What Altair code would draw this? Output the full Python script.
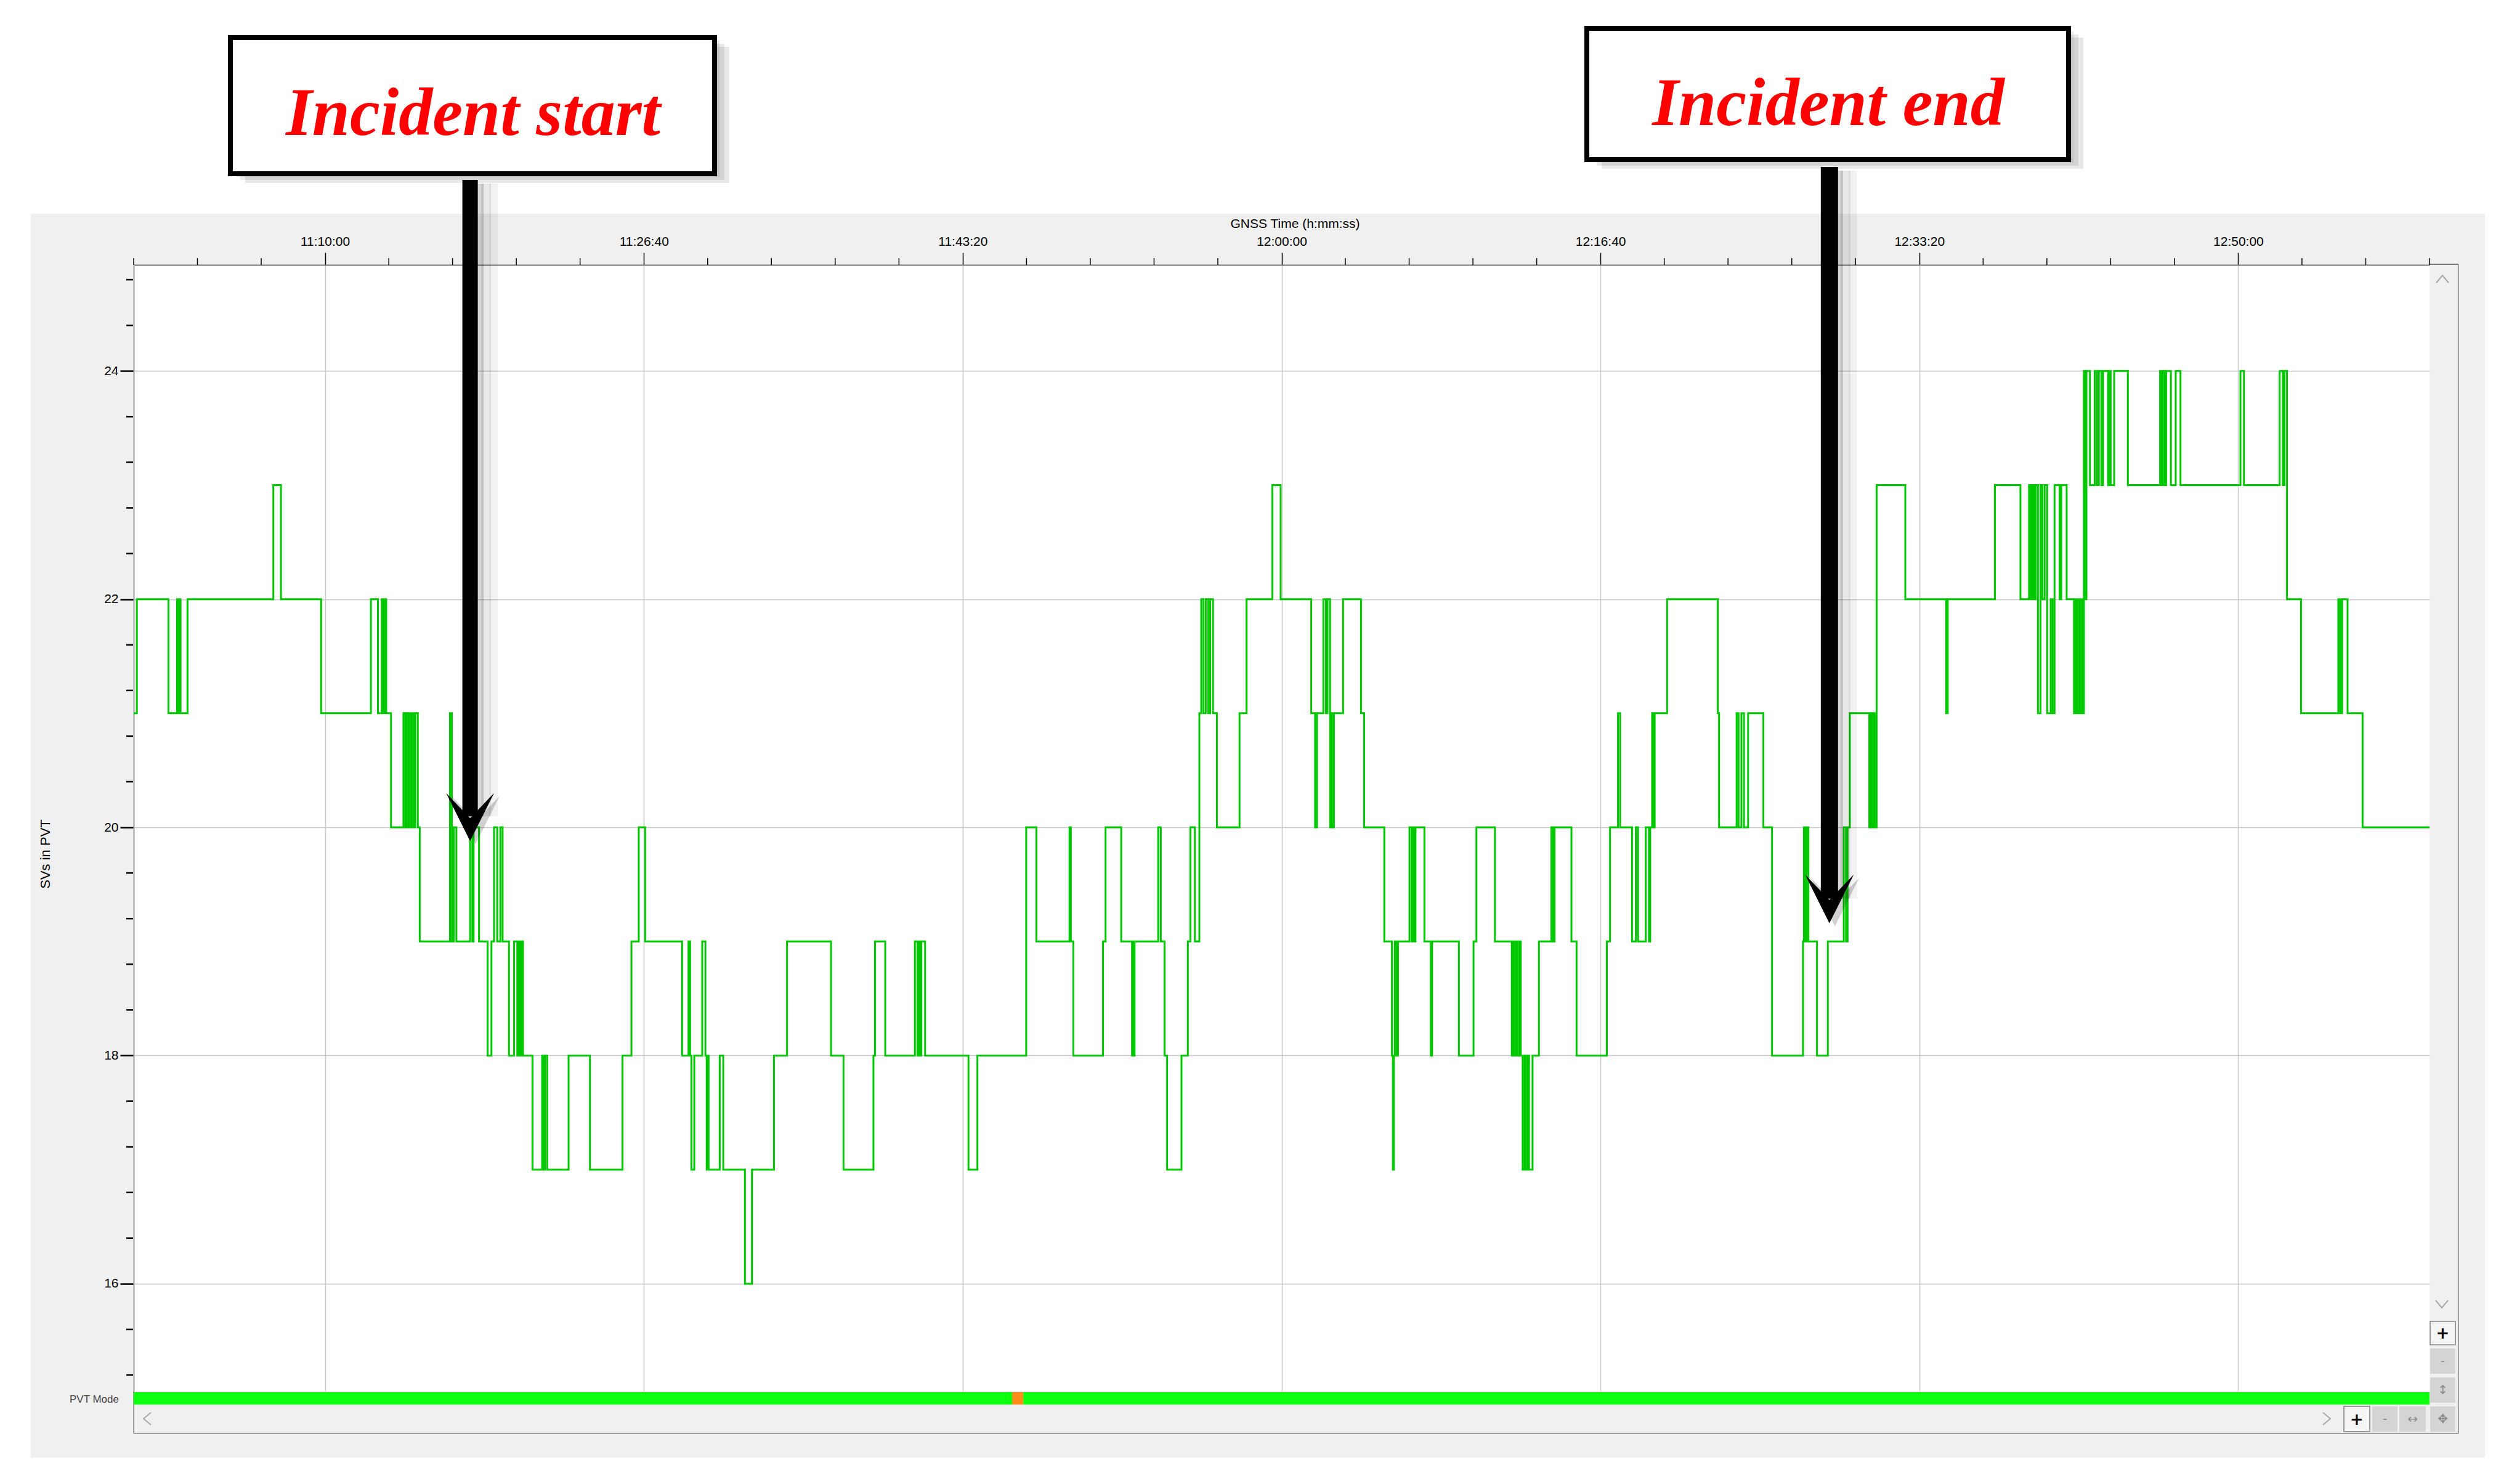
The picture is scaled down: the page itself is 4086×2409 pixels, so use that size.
import altair as alt
import pandas as pd

# ---------------- data ----------------
# seconds after 11:00:00 at which "SVs in PVT" changes, and the new value
change_sec = [0, 10, 109, 136, 140, 143, 147, 169, 438, 462, 588, 744, 766, 778, 783, 787, 792, 807,
              846, 852, 855, 861, 864, 870, 874, 880, 883, 891, 897, 992, 998, 1004, 1012, 1055, 1062,
              1066, 1083, 1110, 1122, 1130, 1140, 1150, 1157, 1177, 1193, 1203, 1208, 1213, 1217, 1221,
              1251, 1281, 1286, 1290, 1297, 1364, 1431, 1533, 1561, 1584, 1604, 1720, 1740, 1745, 1749,
              1758, 1783, 1793, 1797, 1800, 1803, 1838, 1849, 1917, 1939, 2008, 2049, 2187, 2226, 2320,
              2325, 2357, 2450, 2458, 2462, 2466, 2470, 2482, 2618, 2646, 2799, 2831, 2935, 2939, 2947,
              3040, 3048, 3097, 3131, 3135, 3137, 3139, 3213, 3221, 3233, 3241, 3286, 3306, 3314, 3328,
              3342, 3348, 3355, 3362, 3370, 3376, 3385, 3397, 3468, 3490, 3571, 3597, 3693, 3705, 3711,
              3731, 3739, 3744, 3752, 3756, 3758, 3764, 3793, 3849, 3859, 3922, 3946, 3949, 3952, 3955,
              3960, 3965, 4001, 4008, 4012, 4015, 4020, 4048, 4068, 4072, 4156, 4202, 4211, 4269, 4322,
              4326, 4330, 4336, 4340, 4346, 4350, 4356, 4362, 4366, 4372, 4376, 4387, 4407, 4446, 4452,
              4456, 4509, 4525, 4620, 4630, 4655, 4662, 4699, 4711, 4718, 4742, 4752, 4756, 4762, 4766,
              4770, 4809, 4968, 4972, 5027, 5033, 5042, 5050, 5063, 5111, 5138, 5235, 5238, 5242, 5246,
              5252, 5279, 5313, 5363, 5370, 5375, 5382, 5443, 5447, 5452, 5456, 5460, 5466, 5556, 5684,
              5689, 5837, 5917, 5944, 5950, 5955, 5960, 5965, 5972, 5980, 5986, 5993, 6001, 6012, 6018,
              6024, 6040, 6045, 6062, 6085, 6090, 6094, 6100, 6104, 6110, 6114, 6116, 6120, 6124, 6135,
              6150, 6157, 6163, 6171, 6176, 6192, 6196, 6200, 6211, 6254, 6355, 6360, 6364, 6370, 6374,
              6389, 6404, 6419, 6607, 6618, 6730, 6740, 6745, 6753, 6797, 6914, 6920, 6926, 6943, 6990]
svs = [21, 22, 21, 22, 21, 22, 21, 22, 23, 22, 21, 22, 21, 22, 21, 22, 21, 20,
       21, 20, 21, 20, 21, 20, 21, 20, 21, 20, 19, 21, 19, 20, 19, 20, 19,
       20, 19, 18, 19, 20, 19, 20, 19, 18, 19, 18, 19, 18, 19, 18,
       17, 18, 17, 18, 17, 18, 17, 18, 19, 20, 19, 18, 19, 18, 17,
       18, 19, 18, 17, 18, 17, 18, 17, 16, 17, 18, 19, 18, 17, 18,
       19, 18, 19, 18, 19, 18, 19, 18, 17, 18, 20, 19, 20, 19, 18,
       19, 20, 19, 18, 19, 18, 19, 20, 19, 18, 17, 18, 19, 20, 19,
       21, 22, 21, 22, 21, 22, 21, 20, 21, 22, 23, 22, 21, 20, 21,
       22, 21, 22, 20, 21, 20, 21, 22, 21, 20, 19, 18, 17, 18, 19,
       18, 19, 20, 19, 20, 19, 20, 19, 18, 19, 18, 19, 20, 19, 18,
       19, 18, 19, 18, 19, 18, 17, 18, 17, 18, 17, 18, 19, 20, 19,
       20, 19, 18, 19, 20, 21, 20, 19, 20, 19, 20, 19, 20, 21, 20,
       21, 22, 21, 20, 21, 20, 21, 20, 21, 20, 18, 19, 20, 19, 20,
       19, 18, 19, 20, 19, 20, 21, 20, 21, 20, 21, 20, 23, 22, 21,
       22, 23, 22, 23, 22, 23, 22, 23, 21, 23, 22, 23, 21, 22, 21,
       23, 22, 23, 22, 21, 22, 21, 22, 21, 22, 21, 24, 22, 24, 23,
       24, 23, 24, 23, 24, 23, 24, 23, 24, 23, 24, 23, 24, 23, 24,
       23, 24, 23, 24, 23, 24, 23, 24, 22, 21, 22, 21, 22, 21, 20]
end_sec = 7200

x_major = [600, 1600, 2600, 3600, 4600, 5600, 6600]
y_major = [16, 18, 20, 22, 24]

pvt_start = [0, 2755, 2790]
pvt_end = [2755, 2790, 7200]
pvt_mode = ["3D", "degraded", "3D"]

incident_label = ["Incident start", "Incident end"]
incident_sec = [1055, 5318]
incident_tip = [19.88, 19.16]

# ---------------- layout constants ----------------
W, H = 3727, 1828
PAD = {"left": 209, "top": 422, "right": 134, "bottom": 135}
X_DOMAIN = [0, end_sec]
Y_DOMAIN = [15.06, 24.93]
xs = alt.Scale(domain=X_DOMAIN, nice=False, zero=False)
ys = alt.Scale(domain=Y_DOMAIN, nice=False, zero=False)
SANS = "Liberation Sans"

hms = ("(11 + floor(datum.value / 3600)) + ':' + "
       "(floor((datum.value % 3600) / 60) < 10 ? '0' : '') + floor((datum.value % 3600) / 60) + ':' + "
       "((datum.value % 60) < 10 ? '0' : '') + (datum.value % 60)")
x_axis = alt.Axis(
    orient="top", values=x_major, labelExpr=hms,
    title="GNSS Time (h:mm:ss)", titleX=1885, titlePadding=8, titleFontSize=21,
    titleFontWeight="normal", titleColor="black", titleFont=SANS,
    tickSize=20, tickWidth=1.5, tickColor="black", labelPadding=8, labelFontSize=21,
    labelFont=SANS, labelColor="black", labelOverlap=False, labelFlush=False,
    domainColor="#7a7a7a", domainWidth=2, grid=True, gridColor="#c8c8c8", gridWidth=1.5)
y_axis = alt.Axis(
    orient="left", values=y_major, format="d",
    title="SVs in PVT", titleX=-144, titleY=956, titleAlign="center", titleBaseline="middle",
    titleFontSize=22, titleFontWeight="normal", titleColor="black", titleFont=SANS,
    tickSize=22, tickWidth=2.5, tickColor="black", labelPadding=3, labelFontSize=21,
    labelFont=SANS, labelColor="black",
    domainColor="#a0a0a0", domainWidth=2, grid=True, gridColor="#c8c8c8", gridWidth=1.5)


def X(field):
    return alt.X(field, type="quantitative", scale=xs, axis=x_axis)


def Y(field):
    return alt.Y(field, type="quantitative", scale=ys, axis=y_axis)


one = pd.DataFrame({"k": [0]})


def prect(x, x2, y, y2, **kw):
    return alt.Chart(one).mark_rect(**kw).encode(
        x=alt.value(x), x2=alt.value(x2), y=alt.value(y), y2=alt.value(y2))


def prule(x, y, x2=None, y2=None, **kw):
    enc = dict(x=alt.value(x), y=alt.value(y))
    if x2 is not None:
        enc["x2"] = alt.value(x2)
    if y2 is not None:
        enc["y2"] = alt.value(y2)
    return alt.Chart(one).mark_rule(**kw).encode(**enc)


def ptext(txt, x, y, **kw):
    return alt.Chart(one).mark_text(text=txt, **kw).encode(x=alt.value(x), y=alt.value(y))


def pshape(path, x, y, size, **kw):
    return alt.Chart(one).mark_point(shape=path, size=size, opacity=1, **kw).encode(
        x=alt.value(x), y=alt.value(y))


layers = []

# step line
step_df = pd.DataFrame({"t": change_sec + [end_sec], "v": svs + [svs[-1]]})
layers.append(
    alt.Chart(step_df).mark_line(interpolate="step-after", color="#00c800", strokeWidth=3, clip=True).encode(
        x=X("t"), y=Y("v")))

# white page margins around the grey panel
layers += [
    prect(-209, 3861, -422, -83, fill="white"),
    prect(-209, -167, -83, 1963, fill="white"),
    prect(3817, 3861, -83, 1963, fill="white"),
    prect(-209, 3861, 1936, 1963, fill="white"),
]

# frame of the plot widget
bc = "#a0a0a0"
layers += [
    prule(3727, -1, x2=3774, color="#7a7a7a", strokeWidth=2),
    prule(3774, -1, y2=1897, color=bc, strokeWidth=2),
    prule(0, 1897, x2=3774, color=bc, strokeWidth=2),
    prule(0, 1828, y2=1897, color=bc, strokeWidth=2),
]

# PVT mode strip
pvt_df = pd.DataFrame({"s": pvt_start, "e": pvt_end, "mode": pvt_mode})
layers.append(
    alt.Chart(pvt_df).mark_rect(clip=False).encode(
        x=X("s"), x2="e:Q",
        y=alt.value(1830), y2=alt.value(1850),
        color=alt.Color("mode:N", scale=alt.Scale(domain=["3D", "degraded"],
                                                  range=["#0cff0c", "#ff8c19"]), legend=None)))

# minor ticks
x_minor = [t for t in range(0, end_sec + 1, 200) if t not in x_major]
y_minor = [round(15.2 + 0.4 * i, 1) for i in range(25)]
y_minor = [v for v in y_minor if v not in y_major]
layers.append(
    alt.Chart(pd.DataFrame({"t": x_minor})).mark_rule(color="black", strokeWidth=1.5, clip=False).encode(
        x=X("t"), y=alt.value(-11), y2=alt.value(0)))
layers.append(
    alt.Chart(pd.DataFrame({"v": y_minor})).mark_rule(color="black", strokeWidth=2.5, clip=False).encode(
        y=Y("v"), x=alt.value(-12), x2=alt.value(-1)))

# scroll bar chrome
chev = dict(filled=False, stroke="#a8a8a8", strokeWidth=2)
layers += [
    pshape("M -1 0.6 L 0 -0.6 L 1 0.6", 3748, 23, 400, **chev),
    pshape("M -1 -0.6 L 0 0.6 L 1 -0.6", 3747, 1687, 400, **chev),
    pshape("M 0.6 -1 L -0.6 0 L 0.6 1", 22, 1873, 400, **chev),
    pshape("M -0.6 -1 L 0.6 0 L -0.6 1", 3560, 1873, 400, **chev),
]
buttons = [
    (3728, 3769, 1715, 1753, "+", True),
    (3728, 3769, 1759, 1800, "-", False),
    (3728, 3769, 1806, 1847, "↕", False),
    (3588, 3630, 1853, 1894, "+", True),
    (3634, 3675, 1853, 1894, "-", False),
    (3678, 3721, 1853, 1894, "↔", False),
    (3728, 3769, 1853, 1894, "✥", False),
]
for bx, bx2, by, by2, glyph, light in buttons:
    if light:
        layers.append(prect(bx, bx2, by, by2, fill="#f5f5f5", stroke="#9a9a9a", strokeWidth=2))
        layers.append(ptext(glyph, (bx + bx2) / 2, (by + by2) / 2 + 1, font="DejaVu Sans", fontSize=26,
                            fontWeight="bold", color="black", baseline="middle", align="center"))
    else:
        layers.append(prect(bx, bx2, by, by2, fill="#d4d4d4"))
        layers.append(ptext(glyph, (bx + bx2) / 2, (by + by2) / 2, font="DejaVu Sans", fontSize=20,
                            color="#8a8a8a", baseline="middle", align="center"))

layers.append(ptext("PVT Mode", -24, 1842, font=SANS, fontSize=17, color="#404040",
                    align="right", baseline="middle"))

# annotation boxes
boxes = [
    (157, 943, -369, -148, 551, -211, incident_label[0]),
    (2359, 3141, -384, -171, 2751, -227, incident_label[1]),
]
for bx, bx2, by, by2, tx, ty, label in boxes:
    for k in (1, 2, 3):
        layers.append(prect(bx + 8 * k, bx2 + 8 * k, by + 5 * k, by2 + 5 * k, fill="#404040", opacity=0.12))
    layers.append(prect(bx, bx2, by, by2, fill="white", stroke="black", strokeWidth=8))
    layers.append(ptext(label, tx, ty, font="Liberation Serif", fontSize=110, fontStyle="italic",
                        fontWeight="bold", color="#ff0000", align="center", baseline="alphabetic"))

# arrows pointing at the incident times
head_path = "M 0 1 L -1 -1 L 0 0.05 L 1 -1 Z"
arrows = [(0, -138, 25, 78), (1, -159, 28, 79)]
for i, tail, shaft_w, head_w in arrows:
    adf = pd.DataFrame({"t": [incident_sec[i]], "tip": [incident_tip[i]]})
    base = alt.Chart(adf)
    xe = X("t")
    ye = Y("tip")
    for off, wdt, op in ((16, 12, 0.16), (26, 16, 0.09), (38, 14, 0.05)):
        layers.append(base.mark_rule(color="black", opacity=op, strokeWidth=wdt, xOffset=off,
                                     yOffset=-40, clip=False).encode(x=xe, y=ye, y2=alt.value(tail + 6)))
    layers.append(base.mark_point(shape=head_path, size=head_w ** 2, filled=True, color="black",
                                  opacity=0.18, strokeWidth=0, xOffset=9, yOffset=-head_w / 2 + 5,
                                  clip=False).encode(x=xe, y=ye))
    layers.append(base.mark_rule(color="black", strokeWidth=shaft_w, yOffset=-40, strokeCap="butt",
                                 clip=False).encode(x=xe, y=ye, y2=alt.value(tail)))
    layers.append(base.mark_point(shape=head_path, size=head_w ** 2, filled=True, color="black",
                                  opacity=1, strokeWidth=0, yOffset=-head_w / 2,
                                  clip=False).encode(x=xe, y=ye))

chart = alt.layer(*layers).properties(
    width=W, height=H,
    autosize=alt.AutoSizeParams(type="none"),
    padding=PAD,
    background="#f0f0f0",
).configure_view(fill="white", strokeWidth=0)

chart.save("out.html", embed_options={"renderer": "svg", "actions": False})
